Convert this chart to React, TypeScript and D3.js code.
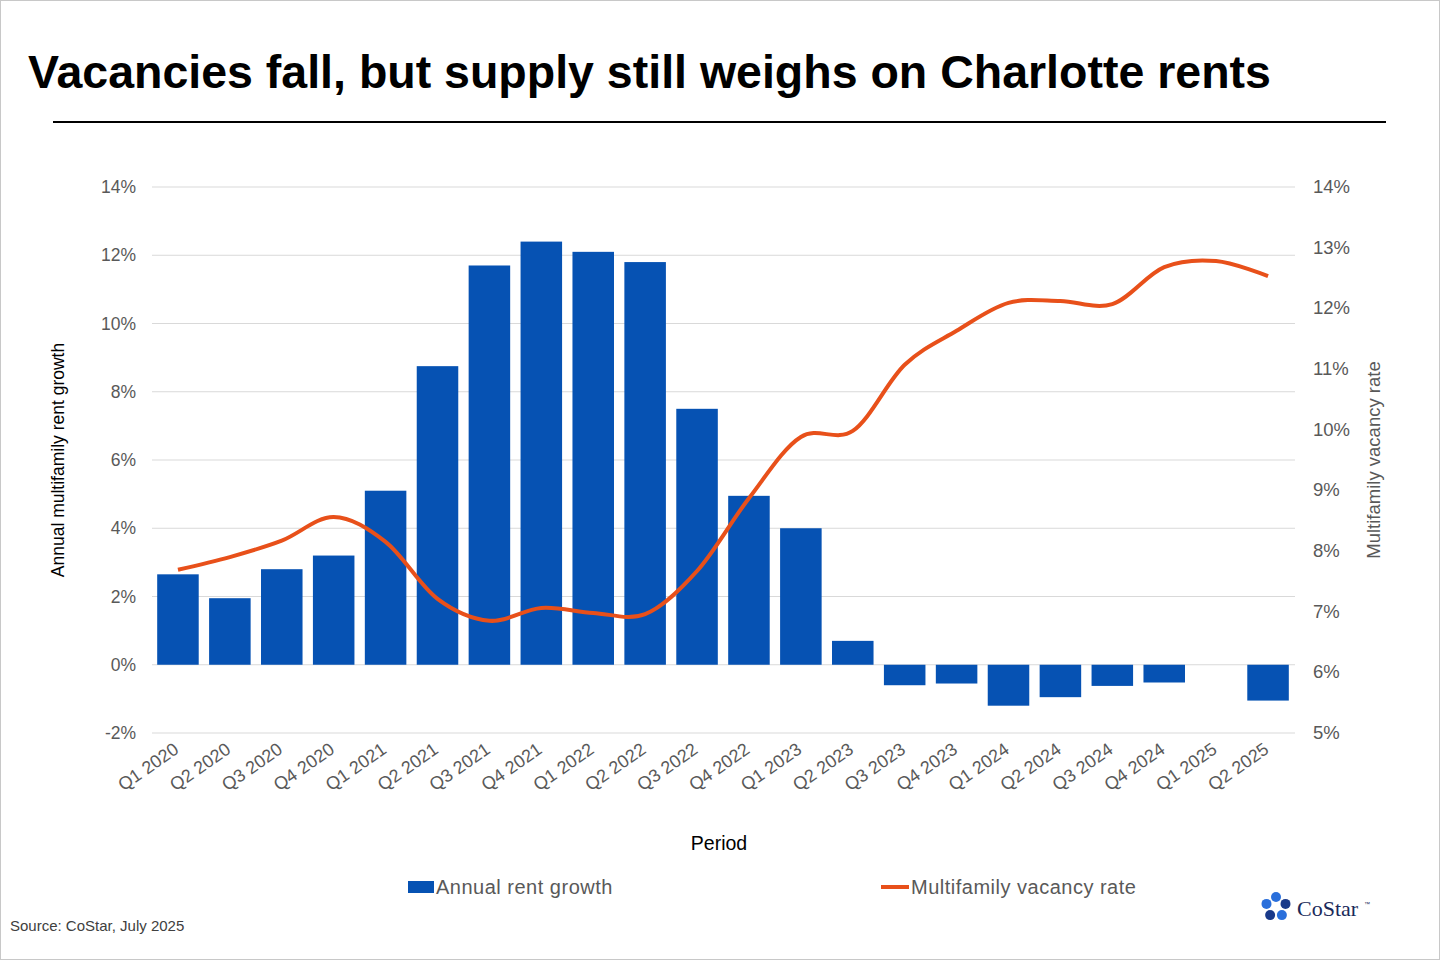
import React from 'react';
import * as d3 from 'd3';

const periods = ['Q1 2020','Q2 2020','Q3 2020','Q4 2020','Q1 2021','Q2 2021','Q3 2021','Q4 2021','Q1 2022','Q2 2022','Q3 2022','Q4 2022','Q1 2023','Q2 2023','Q3 2023','Q4 2023','Q1 2024','Q2 2024','Q3 2024','Q4 2024','Q1 2025','Q2 2025'];
const rentGrowth = [2.65,1.95,2.8,3.2,5.1,8.75,11.7,12.4,12.1,11.8,7.5,4.95,4.0,0.7,-0.6,-0.55,-1.2,-0.95,-0.62,-0.52,0,-1.05];
const vacancy = [7.69,7.9,8.17,8.56,8.15,7.21,6.85,7.06,6.98,6.96,7.67,8.87,9.88,9.98,11.07,11.63,12.09,12.12,12.07,12.68,12.78,12.53];
const leftTicks = [-2,0,2,4,6,8,10,12,14];
const rightTicks = [5,6,7,8,9,10,11,12,13,14];

const BLUE = '#0652B3';
const ORANGE = '#E8501A';
const FONT = 'Arial, "Liberation Sans", sans-serif';

export default function App() {
  const x = d3.scaleBand().domain(periods).range([152, 1294]).paddingInner(0.2).paddingOuter(0.1);
  const yL = d3.scaleLinear().domain([-2, 14]).range([733, 187]);
  const yR = d3.scaleLinear().domain([5, 14]).range([733, 187]);
  const line = d3.line<number>()
    .x((_, i) => x(periods[i])! + x.bandwidth() / 2)
    .y(d => yR(d))
    .curve(d3.curveCatmullRom.alpha(0.1));

  return (
    <svg width={1440} height={960} style={{ position: 'absolute', left: 0, top: 0, fontFamily: FONT }}>
      <rect x={0.5} y={0.5} width={1439} height={959} fill="#fff" stroke="#c8c8c8" />
      <text x={28} y={88} fontSize={46.5} fontWeight="bold" fill="#000">Vacancies fall, but supply still weighs on Charlotte rents</text>
      <line x1={53} x2={1386} y1={122} y2={122} stroke="#000" strokeWidth={2} />

      {leftTicks.map(t => (
        <g key={t}>
          <line x1={152} x2={1295} y1={yL(t)} y2={yL(t)} stroke="#d9d9d9" />
          <text x={136} y={yL(t) + 6} textAnchor="end" fontSize={17.5} fill="#595959">{t}%</text>
        </g>
      ))}
      {rightTicks.map(t => (
        <text key={t} x={1313} y={yR(t) + 6} fontSize={18.5} fill="#595959">{t}%</text>
      ))}

      {rentGrowth.map((v, i) => (
        <rect key={i} x={x(periods[i])} width={x.bandwidth()}
          y={yL(Math.max(0, v))} height={Math.abs(yL(v) - yL(0))} fill={BLUE} />
      ))}
      <path d={line(vacancy)!} fill="none" stroke={ORANGE} strokeWidth={4} strokeLinejoin="round" />

      {periods.map(p => {
        const cx = x(p)! + x.bandwidth() / 2 + 2;
        return (
          <text key={p} transform={`translate(${cx},${752}) rotate(-35)`} textAnchor="end" fontSize={18} fill="#595959">{p}</text>
        );
      })}

      <text transform="translate(64,460) rotate(-90)" textAnchor="middle" fontSize={17.5} fill="#000">Annual multifamily rent growth</text>
      <text transform="translate(1380,460) rotate(-90)" textAnchor="middle" fontSize={18.5} fill="#595959">Multifamily vacancy rate</text>
      <text x={719} y={850} textAnchor="middle" fontSize={19.5} fill="#000">Period</text>

      <rect x={408} y={881} width={26} height={12} fill={BLUE} />
      <text x={436} y={894} fontSize={20} letterSpacing={0.5} fill="#595959">Annual rent growth</text>
      <line x1={881} x2={909} y1={887} y2={887} stroke={ORANGE} strokeWidth={4} />
      <text x={911} y={894} fontSize={20} letterSpacing={0.5} fill="#595959">Multifamily vacancy rate</text>

      <text x={10} y={931} fontSize={15} fill="#404040">Source: CoStar, July 2025</text>

      <g transform="translate(1276,907)">
        {d3.range(5).map(i => {
          const a = (i * 72 - 90) * Math.PI / 180;
          return <circle key={i} cx={Math.cos(a) * 10} cy={Math.sin(a) * 10} r={5} fill={i % 2 ? '#1a3a8a' : '#2a6fdb'} />;
        })}
        <circle r={4} fill="#fff" />
      </g>
      <text x={1297} y={916} fontSize={22} fill="#1a2a5a" fontFamily='"Liberation Serif", serif'>CoStar</text>
      <text x={1364} y={906} fontSize={6} fill="#1a2a5a">™</text>
    </svg>
  );
}
